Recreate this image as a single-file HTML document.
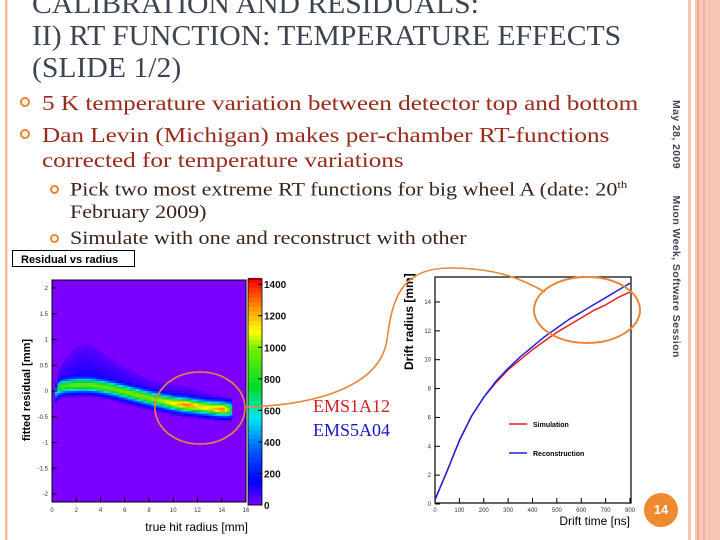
<!DOCTYPE html>
<html><head><meta charset="utf-8"><style>
body{margin:0;width:720px;height:540px;overflow:hidden;background:#fff;position:relative;font-family:"Liberation Serif",serif}
.t{position:absolute;white-space:nowrap;transform-origin:0 0}
.title{left:32px;font-size:28px;color:#3e4552;line-height:31px;transform:scaleX(1.06)}
.b1{font-size:21px;color:#9a2a1c;left:42px;transform:scaleX(1.2)}
.b2{font-size:19px;color:#3a2418;left:70px;transform:scaleX(1.16)}
.dot{position:absolute;border:2.5px solid #e8862e;border-radius:50%;box-sizing:border-box}
</style></head><body>
<svg width="720" height="540" style="position:absolute;left:0;top:0">
<rect x="5" y="0" width="2.5" height="540" fill="#f4b9a4"/>
<rect x="688" y="0" width="3" height="540" fill="#f7c6b4"/>
<rect x="695" y="0" width="25" height="540" fill="#f8c7b5"/>
<rect x="697" y="0" width="2" height="540" fill="#f0a98f"/>
<rect x="703" y="0" width="2" height="540" fill="#f2b29b"/>
<rect x="709" y="0" width="1.5" height="540" fill="#f4bba6"/>
</svg>
<div class="t title" style="top:-11px">CALIBRATION AND RESIDUALS:</div>
<div class="t title" style="top:21px">II) RT FUNCTION: TEMPERATURE EFFECTS</div>
<div class="t title" style="top:53px">(SLIDE 1/2)</div>
<div class="dot" style="left:20px;top:97px;width:10px;height:10px"></div>
<div class="t b1" style="top:91px">5 K temperature variation between detector top and bottom</div>
<div class="dot" style="left:20px;top:129px;width:10px;height:10px"></div>
<div class="t b1" style="top:123px">Dan Levin (Michigan) makes per-chamber RT-functions</div>
<div class="t b1" style="top:148px">corrected for temperature variations</div>
<div class="dot" style="left:50px;top:185px;width:9px;height:9px"></div>
<div class="t b2" style="top:179px">Pick two most extreme RT functions for big wheel A (date: 20<sup style="font-size:11px">th</sup></div>
<div class="t b2" style="top:202px">February 2009)</div>
<div class="dot" style="left:50px;top:234px;width:9px;height:9px"></div>
<div class="t" style="top:228px;left:70px;font-size:19px;color:#3a2418;transform:scaleX(1.16)">Simulate with one and reconstruct with other</div>
<div class="t" style="left:682px;top:100px;transform:rotate(90deg);font:bold 10.5px 'Liberation Sans',sans-serif;color:#3e4552;letter-spacing:0.4px">May 28, 2009&nbsp;&nbsp;&nbsp;&nbsp;&nbsp;&nbsp;&nbsp;&nbsp;Muon Week, Software Session</div>
<div class="t" style="left:313px;top:396px;font-size:18px;color:#d61f1f">EMS1A12</div>
<div class="t" style="left:313px;top:420px;font-size:18px;color:#1818c8">EMS5A04</div>
<div style="position:absolute;left:644px;top:493px;width:34px;height:34px;border-radius:50%;background:#f08a30;color:#fff;font:bold 13px 'Liberation Sans',sans-serif;text-align:center;line-height:34px">14</div>

<svg id="charts" width="720" height="540" style="position:absolute;left:0;top:0" font-family="Liberation Sans, sans-serif"></svg>
<script>
// ---- heatmap data ----
const radiusBins=[0.25,0.5,1,2,3,4,5,6,7,8,9,10,11,12,13,14,14.5,14.8];
const bandCenter=[-0.05,0.05,0.08,0.1,0.1,0.07,0.02,-0.04,-0.1,-0.16,-0.21,-0.26,-0.29,-0.32,-0.35,-0.37,-0.38,-0.38];
const bandPeak=[500,850,900,950,950,950,950,980,1000,1000,1050,1150,1300,1150,1150,1300,1000,600];
const haloHeight=[0.1,0.3,0.5,0.8,0.85,0.7,0.55,0.45,0.35,0.3,0.3,0.3,0.3,0.25,0.2,0.15,0.1,0.05];
const colorTicks=[0,200,400,600,800,1000,1200,1400];
const hmXTicks=[0,2,4,6,8,10,12,14,16];
const hmYTicks=[-2,-1.5,-1,-0.5,0,0.5,1,1.5,2];
// ---- RT curves ----
const driftTime=[0,50,100,150,200,250,300,350,400,450,500,550,600,650,700,750,800];
const simRadius=[0.3,2.3,4.4,6.1,7.4,8.4,9.3,10.0,10.7,11.3,11.9,12.4,12.9,13.4,13.8,14.3,14.7];
const recoRadius=[0.3,2.3,4.4,6.1,7.4,8.5,9.4,10.2,10.9,11.6,12.2,12.8,13.3,13.8,14.3,14.8,15.3];
const rtXTicks=[0,100,200,300,400,500,600,700,800];
const rtYTicks=[0,2,4,6,8,10,12,14];

const NS='http://www.w3.org/2000/svg';
const svg=document.getElementById('charts');
function el(tag,attrs,parent){const e=document.createElementNS(NS,tag);for(const k in attrs)e.setAttribute(k,attrs[k]);(parent||svg).appendChild(e);return e;}
const hx=v=>52+v/16*194, hy=v=>391-v*51.5;
const cy=v=>505-v/1433*226;
function cmap(v){
  const stops=[[0,[123,0,255]],[150,[0,0,255]],[350,[0,90,255]],[550,[0,230,240]],[750,[0,220,40]],[1000,[120,240,0]],[1100,[255,255,0]],[1250,[255,150,0]],[1430,[255,0,0]]];
  if(v<=0)return 'rgb(123,0,255)';
  for(let i=1;i<stops.length;i++){if(v<=stops[i][0]||i==stops.length-1){const a=stops[i-1],b=stops[i];const t=Math.min(1,(v-a[0])/(b[0]-a[0]));const c=a[1].map((x,j)=>Math.round(x+(b[1][j]-x)*t));return `rgb(${c})`;}}
}
function interp(xs,ys,x){if(x<=xs[0])return ys[0];for(let i=1;i<xs.length;i++)if(x<=xs[i]){const t=(x-xs[i-1])/(xs[i]-xs[i-1]);return ys[i-1]+(ys[i]-ys[i-1])*t;}return ys[ys.length-1];}
const hm=el('g',{});


el('rect',{x:52,y:280,width:194,height:222,fill:'#7b00ff'},hm);
const rMin=radiusBins[0], rMax=radiusBins[radiusBins.length-1];
for(let r=rMin;r<rMax;r+=0.2){
  const c=interp(radiusBins,bandCenter,r),p=interp(radiusBins,bandPeak,r),h=interp(radiusBins,haloHeight,r);
  for(let y=-1.0;y<1.2;y+=0.04){
    const d=y-c;let v=p*Math.exp(-d*d/(2*0.09*0.09));
    if(d>0&&d<h+0.1)v=Math.max(v,150*(1-d/(h+0.15)));
    if(v<30)continue;
    const cell=el('rect',{x:hx(r).toFixed(1),y:hy(y+0.04).toFixed(1),width:2.6,height:2.2,fill:cmap(v)},hm);
    
    
  }
}
el('rect',{x:52,y:280,width:194,height:222,fill:'none',stroke:'#000','stroke-width':1});
hmXTicks.forEach(t=>{el('line',{x1:hx(t),x2:hx(t),y1:502,y2:497,stroke:'#000'});const tx=el('text',{x:hx(t),y:512,'font-size':6,'text-anchor':'middle',fill:'#333'});tx.textContent=t;});
hmYTicks.forEach(t=>{el('line',{x1:52,x2:57,y1:hy(t),y2:hy(t),stroke:'#000'});const tx=el('text',{x:48,y:hy(t)+2,'font-size':6,'text-anchor':'end',fill:'#333'});tx.textContent=t;});
for(let v=0;v<1433;v+=30){const s=el('rect',{x:248,y:cy(v+30),width:14,height:cy(v)-cy(v+30)+0.5,fill:cmap(v+15)});}
el('rect',{x:248,y:279,width:14,height:226,fill:'none',stroke:'#000','stroke-width':0.8});
colorTicks.forEach(t=>{el('line',{x1:258,x2:262,y1:cy(t),y2:cy(t),stroke:'#000'});const tx=el('text',{x:264,y:cy(t)+4,'font-size':10,'font-weight':'bold',fill:'#111'});tx.textContent=t;});
const tb=el('rect',{x:12.5,y:250.5,width:122,height:16,fill:'#fff',stroke:'#000'});
let t1=el('text',{x:21,y:263,'font-size':11,'font-weight':'bold'});t1.textContent='Residual vs radius';
let t2=el('text',{transform:'translate(30,390) rotate(-90)','font-size':11,'font-weight':'bold','text-anchor':'middle'});t2.textContent='fitted residual [mm]';
let t3=el('text',{x:248,y:531,'font-size':12,'text-anchor':'end'});t3.textContent='true hit radius [mm]';

const rx=v=>435+v/800*195, ry=v=>504-v*14.43;
el('rect',{x:435,y:277,width:196,height:226,fill:'#fff',stroke:'#000','stroke-width':1.2});
rtXTicks.forEach(t=>{el('line',{x1:rx(t),x2:rx(t),y1:503,y2:498,stroke:'#000'});const tx=el('text',{x:rx(t),y:512,'font-size':6,'text-anchor':'middle',fill:'#333'});tx.textContent=t;});
rtYTicks.forEach(t=>{el('line',{x1:435,x2:440,y1:ry(t),y2:ry(t),stroke:'#000'});const tx=el('text',{x:431,y:ry(t)+2,'font-size':6,'text-anchor':'end',fill:'#333'});tx.textContent=t;});
function line(xs,ys,col,name){const d=xs.map((x,i)=>(i?'L':'M')+rx(x).toFixed(1)+','+ry(ys[i]).toFixed(1)).join('');const p=el('path',{d,fill:'none',stroke:col,'stroke-width':1.5,'stroke-linejoin':'round'});}
line(driftTime,simRadius,'#e82020','simulation-line');
line(driftTime,recoRadius,'#2020e0','reconstruction-line');
el('line',{x1:509,x2:527,y1:424,y2:424,stroke:'#e82020','stroke-width':1.5});
let l1=el('text',{x:533,y:427,'font-size':7,'font-weight':'bold'});l1.textContent='Simulation';
el('line',{x1:509,x2:527,y1:453,y2:453,stroke:'#2020e0','stroke-width':1.5});
let l2=el('text',{x:533,y:456,'font-size':7,'font-weight':'bold'});l2.textContent='Reconstruction';
let t4=el('text',{transform:'translate(413,370) rotate(-90)','font-size':12,'font-weight':'bold'});t4.textContent='Drift radius [mm]';
let t5=el('text',{x:630,y:525,'font-size':12,'text-anchor':'end'});t5.textContent='Drift time [ns]';
const a1=el('ellipse',{cx:200,cy:408,rx:45,ry:36,fill:'none',stroke:'#e8863a','stroke-width':1.6});
const a2=el('ellipse',{cx:587,cy:310,rx:53,ry:33,fill:'none',stroke:'#e8863a','stroke-width':2});
const a3=el('path',{d:'M246,407 C320,405 380,385 387,340 C392,300 400,268 450,268 C495,268 520,278 545,292',fill:'none',stroke:'#e8863a','stroke-width':1.6});
</script>
</body></html>
